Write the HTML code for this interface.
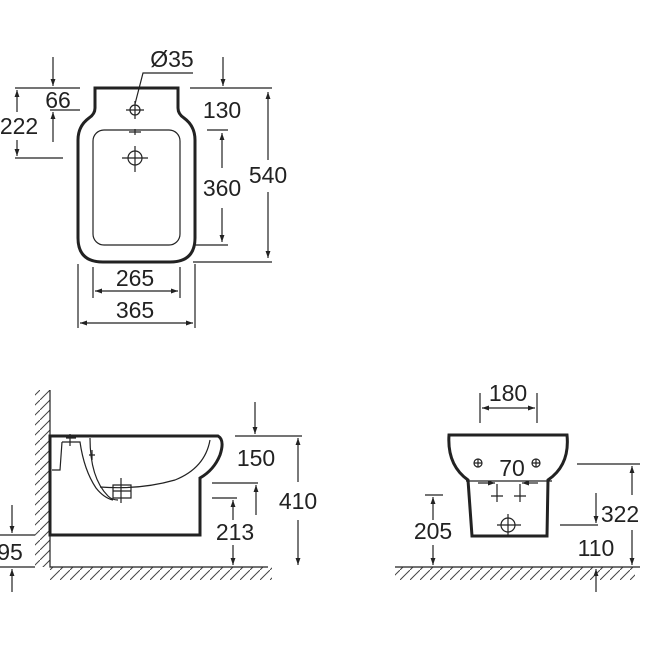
<!DOCTYPE html>
<html><head><meta charset="utf-8"><style>
html,body{margin:0;padding:0;background:#fff}
svg{display:block}
text{font-family:"Liberation Sans",sans-serif;font-size:23px;fill:#222;text-anchor:middle}
</style></head><body>
<svg width="650" height="650" viewBox="0 0 650 650" xmlns="http://www.w3.org/2000/svg">
<defs>
<marker id="a" viewBox="0 0 10 10" refX="10" refY="5" markerWidth="11" markerHeight="7" orient="auto-start-reverse" markerUnits="userSpaceOnUse"><path d="M0,1.5 L10,5 L0,8.5 Z" fill="#222"/></marker>
<pattern id="h" width="10" height="10" patternUnits="userSpaceOnUse"><path d="M0,10 L10,0" stroke="#444" stroke-width="1"/></pattern>
</defs>
<g stroke="#222" stroke-width="1.2" fill="none">
<!-- TOP VIEW -->
<path d="M95,88 L178,88 L178,108 Q178,114 184,118 Q195,126 195,140 L195,238 Q195,262 170,262 L103,262 Q78,262 78,238 L78,140 Q78,126 89,118 Q95,114 95,108 Z" stroke-width="3"/>
<rect x="93" y="130" width="87" height="115" rx="11"/>
<circle cx="135" cy="110" r="5"/><path d="M126,110 H144 M135,101 V119"/>
<circle cx="135" cy="158" r="7"/><path d="M122,158 H148 M135,146 V172"/>
<path d="M129,132 H141 M135,129 V135"/>
<path d="M193,73 H143 L135,104"/>
<path d="M190,88 H272 M193,262 H272 M207,130 H228 M195,245 H228"/>
<path d="M268,92 V160" marker-start="url(#a)"/>
<path d="M268,192 V258" marker-end="url(#a)"/>
<path d="M223,57 V86" marker-end="url(#a)"/>
<path d="M222,133 V168" marker-start="url(#a)"/>
<path d="M222,208 V242" marker-end="url(#a)"/>
<path d="M15,88 H80 M50,110 H80 M15,158 H63"/>
<path d="M53,57 V86" marker-end="url(#a)"/>
<path d="M53,142 V112" marker-end="url(#a)"/>
<path d="M17,112 V90" marker-end="url(#a)"/>
<path d="M17,140 V156" marker-end="url(#a)"/>
<path d="M93,267 V298 M180,267 V298 M78,264 V328 M195,264 V328"/>
<path d="M95,291 H178" marker-start="url(#a)" marker-end="url(#a)"/>
<path d="M80,323 H193" marker-start="url(#a)" marker-end="url(#a)"/>
<!-- SIDE VIEW -->
<rect x="35" y="390" width="15" height="177" fill="url(#h)" stroke="none"/>
<rect x="50" y="567" width="222" height="13" fill="url(#h)" stroke="none"/>
<path d="M50,390 V567 H268"/>
<path d="M50,436 H218 Q225,440 220,455 Q214,470 200,478 V535 H50 Z" stroke-width="3"/>
<path d="M90,438 Q90,478 108,496 Q112,500 118,500"/>
<path d="M100,487 Q140,490 175,480 Q205,468 210,440"/>
<path d="M62,442 H80 Q84,470 96,488 Q104,498 113,500 M62,442 L60,470 H52"/>
<path d="M113,485 H131 V498 H113 Z M113,491 H131 M121,478 V503 M70,434 V446 M66,438 H76 M92,450 V460 M89,455 H95"/>
<path d="M235,436 H302 M212,483 H258 M212,498 H237 M0,535 H35 M0,567 H35"/>
<path d="M255,402 V434" marker-end="url(#a)"/>
<path d="M256,515 V485" marker-end="url(#a)"/>
<path d="M233,520 V500" marker-end="url(#a)"/>
<path d="M233,545 V565" marker-end="url(#a)"/>
<path d="M298,438 V482" marker-start="url(#a)"/>
<path d="M298,520 V565" marker-end="url(#a)"/>
<path d="M12,505 V533" marker-end="url(#a)"/>
<path d="M12,592 V569" marker-end="url(#a)"/>
<!-- FRONT VIEW -->
<rect x="395" y="567" width="240" height="13" fill="url(#h)" stroke="none"/>
<path d="M395,567 H640"/>
<path d="M449,435 H567 Q570,465 548,480 L547,536 H472 L468,480 Q447,465 449,435 Z" stroke-width="3"/>
<path d="M466,481 H552"/>
<circle cx="478" cy="463" r="4"/><path d="M474,463 H482 M478,459 V467"/>
<circle cx="536" cy="463" r="4"/><path d="M532,463 H540 M536,459 V467"/>
<circle cx="508" cy="525" r="7"/><path d="M497,525 H521 M508,514 V536"/>
<path d="M491,496 H503 M497,484 V502 M514,496 H526 M520,484 V502"/>
<path d="M478,483 H495" marker-end="url(#a)"/>
<path d="M538,483 H522" marker-end="url(#a)"/>
<path d="M480,393 V423 M537,393 V423"/>
<path d="M482,408 H535" marker-start="url(#a)" marker-end="url(#a)"/>
<path d="M577,464 H640 M560,525 H598 M425,495 H443"/>
<path d="M632,466 V495" marker-start="url(#a)"/>
<path d="M632,530 V565" marker-end="url(#a)"/>
<path d="M596,493 V523" marker-end="url(#a)"/>
<path d="M596,592 V569" marker-end="url(#a)"/>
<path d="M433,520 V497" marker-end="url(#a)"/>
<path d="M433,545 V565" marker-end="url(#a)"/>
</g>
<g>
<text x="172" y="67">Ø35</text>
<text x="222" y="118">130</text>
<text x="268" y="183">540</text>
<text x="222" y="196">360</text>
<text x="58" y="108">66</text>
<text x="19" y="134">222</text>
<text x="135" y="286">265</text>
<text x="135" y="318">365</text>
<text x="256" y="466">150</text>
<text x="298" y="509">410</text>
<text x="235" y="540">213</text>
<text x="10" y="560">95</text>
<text x="508" y="401">180</text>
<text x="512" y="476">70</text>
<text x="620" y="522">322</text>
<text x="596" y="556">110</text>
<text x="433" y="539">205</text>
</g>
</svg>
</body></html>
